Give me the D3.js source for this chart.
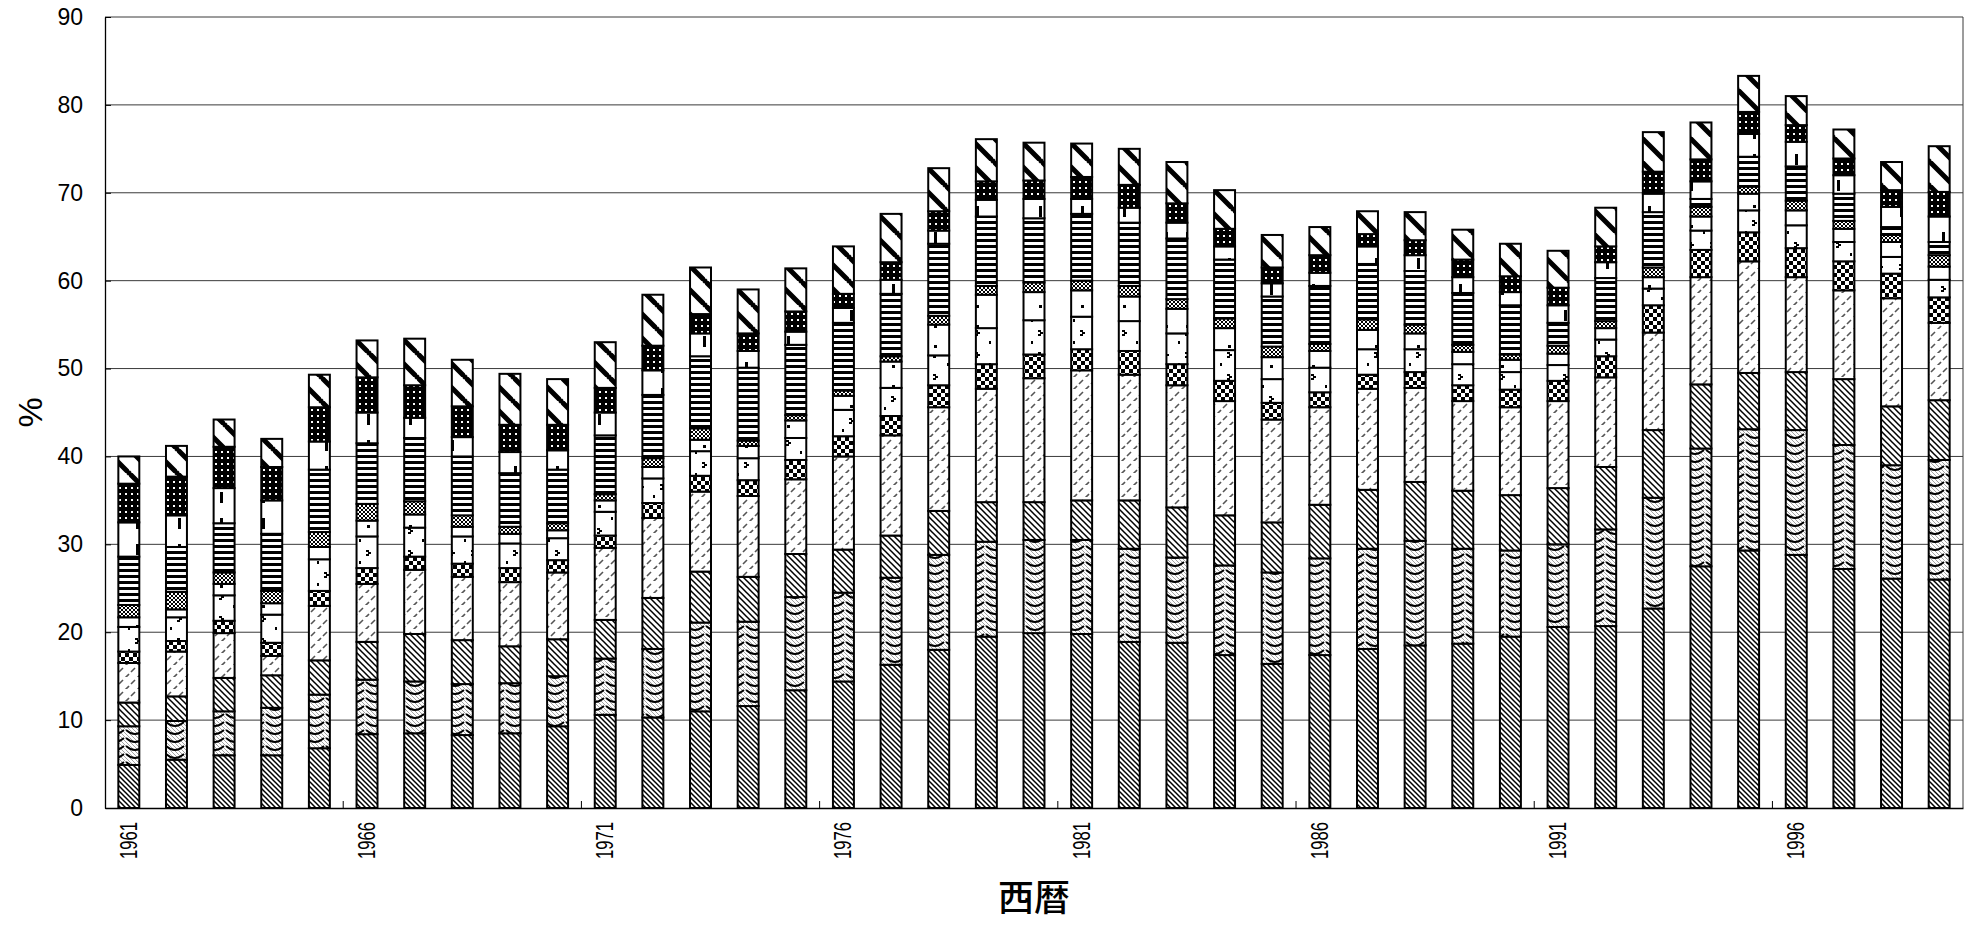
<!DOCTYPE html>
<html>
<head>
<meta charset="utf-8">
<script src="https://cdn.jsdelivr.net/npm/d3@7"></script>
<style>
  body { margin: 0; background: #fff; }
  svg { display: block; }
</style>
</head>
<body>
<div id="chart"><svg></svg></div>
<script>
// years on the x axis
var years = d3.range(1961, 2000);

// stacked segments, bottom (s1) to top (s12), one value per year, in %
var s1  = [4.9,5.5,6.0,6.0,6.8,8.4,8.5,8.3,8.5,9.3,10.6,10.3,11.0,11.6,13.4,14.4,16.3,18.0,19.5,19.9,19.8,18.9,18.8,17.4,16.4,17.4,18.1,18.5,18.7,19.5,20.6,20.7,22.7,27.5,29.3,28.8,27.2,26.1,26.0];
var s2  = [4.4,4.4,5.0,5.4,6.1,6.2,5.9,5.8,5.7,5.7,6.4,7.8,10.1,9.6,10.6,10.1,9.9,10.8,10.8,10.6,10.7,10.6,9.7,10.2,10.4,11.0,11.4,11.9,10.8,9.8,9.4,11.0,12.6,13.4,13.8,14.2,14.1,12.9,13.6];
var s3  = [2.7,2.8,3.8,3.7,3.9,4.3,5.4,5.0,4.2,4.2,4.4,5.8,5.8,5.1,4.9,4.9,4.8,5.0,4.5,4.3,4.5,5.5,5.7,5.7,5.7,6.1,6.7,6.7,6.6,6.3,6.4,7.1,7.7,7.3,6.4,6.6,7.5,6.7,6.8];
var s4  = [4.5,5.1,5.1,2.2,6.2,6.6,7.3,7.2,7.3,7.6,8.2,9.1,9.1,9.2,8.5,10.6,11.4,11.8,12.9,14.1,14.8,14.3,13.9,13.0,11.7,11.1,11.5,10.7,10.2,10.0,9.9,10.2,11.1,12.2,12.7,10.8,10.1,12.3,8.8];
var s5  = [1.3,1.2,1.4,1.5,1.7,1.8,1.5,1.5,1.6,1.4,1.4,1.7,1.8,1.8,2.2,2.3,2.2,2.5,2.8,2.7,2.4,2.7,2.4,2.3,1.9,1.7,1.6,1.8,1.8,2.0,2.3,2.4,3.1,3.1,3.3,3.3,3.3,2.8,2.9];
var s6  = [2.8,2.7,2.9,3.2,3.6,3.6,3.3,3.1,2.8,2.5,2.7,2.8,2.8,2.5,2.5,3.0,3.2,3.4,4.1,3.9,3.7,3.4,3.5,3.5,2.7,2.8,2.9,2.6,2.4,2.0,1.8,1.9,1.9,2.2,2.5,2.6,2.2,1.9,2.0];
var s7  = [1.1,0.9,1.3,1.3,1.4,1.8,1.5,1.1,1.1,0.9,1.3,1.3,1.3,1.4,2.0,1.6,3.0,3.5,3.8,3.2,3.0,2.8,2.8,2.5,2.5,1.9,2.2,1.8,1.4,1.4,1.3,1.3,1.3,1.6,1.9,1.7,1.5,1.7,1.5];
var s8  = [1.4,2.0,1.3,1.4,1.7,1.9,1.5,1.3,0.8,0.8,0.7,1.0,1.3,0.6,0.6,0.6,0.6,1.0,1.0,1.1,1.1,1.2,1.1,1.1,1.2,0.8,1.2,1.0,0.8,0.6,0.9,0.8,1.1,1.1,0.8,1.1,0.9,0.8,1.3];
var s9  = [5.5,5.1,5.6,6.5,7.1,6.9,7.2,6.7,6.1,6.1,6.7,7.2,8.2,8.3,8.0,7.7,7.1,8.2,7.9,7.3,7.6,7.2,6.9,6.7,5.7,6.6,6.3,6.1,5.9,5.6,2.6,4.9,6.3,0.9,3.4,3.9,3.1,0.9,1.5];
var s10 = [3.9,3.6,4.0,3.8,3.2,3.5,2.3,2.2,2.4,2.2,2.6,2.8,2.6,1.9,1.5,1.7,1.6,1.5,1.9,2.2,1.7,1.7,1.8,1.5,1.5,1.5,2.0,1.8,1.8,1.5,2.0,1.8,2.1,2.0,2.6,2.8,2.1,2.3,2.9];
var s11 = [4.4,4.4,4.7,3.8,3.9,4.0,3.7,3.5,3.1,2.9,2.8,2.8,2.2,2.0,2.3,1.6,2.0,2.2,2.1,2.1,2.5,2.6,2.2,2.0,1.8,2.0,1.4,1.7,2.0,1.8,2.0,1.8,2.5,2.5,2.5,1.9,1.9,1.9,2.8];
var s12 = [3.1,3.5,3.1,3.2,3.7,4.2,5.3,5.3,5.8,5.2,5.2,5.8,5.3,5.0,4.9,5.4,5.5,4.9,4.8,4.3,3.8,4.1,4.7,4.4,3.7,3.2,2.6,3.2,3.4,3.7,4.2,4.4,4.5,4.2,4.1,3.3,3.3,3.2,5.2];

var seriesList = [s1, s2, s3, s4, s5, s6, s7, s8, s9, s10, s11, s12];
var seriesKeys = ['s1','s2','s3','s4','s5','s6','s7','s8','s9','s10','s11','s12'];

var yTicks = d3.range(0, 91, 10);
var labelYears = years.filter(function(d, i){ return i % 5 === 0; });

var width = 1977, height = 925;
var margins = { top: 17, bottom: 117, left: 105, right: 14 };
var plotW = width - margins.left - margins.right;
var plotH = height - margins.top - margins.bottom;

var svg = d3.select("#chart").select("svg").attr('width', width).attr('height', height);

// ---- fill patterns (black & white, like the original print) ----
var defs = svg.append('defs');

function pat(id, w, h, bg){
  var p = defs.append('pattern').attr('id', id)
            .attr('patternUnits', 'userSpaceOnUse')
            .attr('width', w).attr('height', h);
  p.append('rect').attr('width', w).attr('height', h).attr('fill', bg);
  return p;
}
function diag(p, w, sw, col){
  p.append('path')
    .attr('d', 'M-1,-1L' + (w+1) + ',' + (w+1) + 'M-1,' + (w-1) + 'L1,' + (w+1) + 'M' + (w-1) + ',-1L' + (w+1) + ',1')
    .attr('stroke', col).attr('stroke-width', sw).attr('fill', 'none');
}

var p1 = pat('p1', 5, 5, '#fff'); diag(p1, 5, 1.5, '#000');
// scallop: arcs over a faint hatch
var p2 = pat('p2', 20, 8, '#fff');
p2.append('path').attr('d', 'M0,0L8,8M4,0L12,8M8,0L16,8M12,0L20,8M16,0L24,8M-4,0L4,8')
  .attr('stroke', '#999').attr('stroke-width', 0.9);
p2.append('path').attr('d', 'M1,1 Q10,9 19,1').attr('stroke', '#000').attr('stroke-width', 1.8).attr('fill', 'none');
var p3 = pat('p3', 6, 6, '#fff'); diag(p3, 6, 1.5, '#000');
var p4 = pat('p4', 12, 12, '#fff');
p4.append('path').attr('d', 'M2,7L6,3M8,13L12,9M-4,13L0,9').attr('stroke', '#555').attr('stroke-width', 1.6);
var p5 = pat('p5', 8, 8, '#fff');
p5.append('rect').attr('width', 4).attr('height', 4).attr('fill', '#000');
p5.append('rect').attr('x', 4).attr('y', 4).attr('width', 4).attr('height', 4).attr('fill', '#000');
var p6 = pat('p6', 21, 22, '#fff');
p6.append('path').attr('d', 'M9,5h3v2h2v2h-2v2h-3v-2h2v-2h-2z M2,16h2v3h-2z').attr('fill', '#000');
var p7 = pat('p7', 21, 20, '#fff');
p7.append('rect').attr('x', 10).attr('y', 8).attr('width', 3).attr('height', 3).attr('fill', '#000');
var p8 = pat('p8', 4, 4, '#fff');
p8.append('rect').attr('width', 2).attr('height', 2).attr('fill', '#000');
p8.append('rect').attr('x', 2).attr('y', 2).attr('width', 2).attr('height', 2).attr('fill', '#000');
var p9 = pat('p9', 6, 6, '#fff');
p9.append('rect').attr('width', 6).attr('height', 3).attr('fill', '#000');
var p10 = pat('p10', 21, 26, '#fff');
p10.append('rect').attr('x', 10).attr('y', 7).attr('width', 3).attr('height', 11).attr('fill', '#000');
var p11 = pat('p11', 6, 6, '#000');
p11.append('rect').attr('x', 2).attr('y', 2).attr('width', 2).attr('height', 2).attr('fill', '#fff');
var p12 = pat('p12', 24, 24, '#fff'); diag(p12, 24, 5, '#000');

// ---- scales ----
var xScale = d3.scaleBand()
              .domain(years)
              .range([0, plotW])
              .paddingInner(0.56)
              .paddingOuter(0.28);

var yScale = d3.scaleLinear()
              .domain([0, 90])
              .range([plotH, 0]);

var plotLand = svg.append('g')
                  .attr('transform', 'translate(' + margins.left + ',' + margins.top + ')');

// grid lines
plotLand.append('g').selectAll('line')
  .data(yTicks.slice(1))
  .enter().append('line')
  .attr('x1', 0).attr('x2', plotW)
  .attr('y1', function(d){ return yScale(d); })
  .attr('y2', function(d){ return yScale(d); })
  .attr('stroke', '#3a3a3a').attr('stroke-width', 1);

// right border of plot
plotLand.append('line')
  .attr('x1', plotW).attr('x2', plotW).attr('y1', 0).attr('y2', plotH)
  .attr('stroke', '#3a3a3a').attr('stroke-width', 1);

// ---- stacked bars ----
var table = years.map(function(y, i){
  var row = { year: y };
  seriesKeys.forEach(function(k, j){ row[k] = seriesList[j][i]; });
  return row;
});
var stacked = d3.stack().keys(seriesKeys)(table);

var layers = plotLand.selectAll('g.layer')
  .data(stacked)
  .enter().append('g')
  .attr('class', 'layer')
  .attr('fill', function(d, i){ return 'url(#p' + (i + 1) + ')'; });

layers.selectAll('rect')
  .data(function(d){ return d; })
  .enter().append('rect')
  .attr('x', function(d){ return xScale(d.data.year); })
  .attr('width', xScale.bandwidth())
  .attr('y', function(d){ return yScale(d[1]); })
  .attr('height', function(d){ return yScale(d[0]) - yScale(d[1]); })
  .attr('stroke', '#000')
  .attr('stroke-width', 2);

// ---- axes ----
var yAxis = d3.axisLeft().scale(yScale).tickValues(yTicks)
              .tickSizeInner(-6).tickSizeOuter(0).tickPadding(22);
var gy = plotLand.append('g').call(yAxis);
gy.select('.domain').attr('stroke', '#000').attr('stroke-width', 1.3);
gy.selectAll('.tick line').attr('stroke', '#000');
gy.selectAll('text').attr('font-family', 'Liberation Sans, Arial, sans-serif')
  .attr('font-size', 23).attr('fill', '#000');

var xAxis = d3.axisBottom().scale(xScale).tickValues(labelYears).tickSize(0).tickPadding(0);
var gx = plotLand.append('g').attr('transform', 'translate(0,' + plotH + ')').call(xAxis);
gx.select('.domain').attr('stroke', '#000').attr('stroke-width', 1.5);
gx.selectAll('text')
  .attr('font-family', 'Liberation Sans, Arial, sans-serif')
  .attr('font-size', 23).attr('fill', '#000')
  .attr('textLength', 37).attr('lengthAdjust', 'spacingAndGlyphs')
  .attr('transform', 'rotate(-90)')
  .attr('text-anchor', 'end')
  .attr('x', -14).attr('y', 0).attr('dy', '0.35em');

// small tick marks between groups of five years
var step = xScale.step();
plotLand.append('g').selectAll('line')
  .data(d3.range(5, years.length, 5))
  .enter().append('line')
  .attr('x1', function(d){ return xScale(years[d]) - (step - xScale.bandwidth()) / 2; })
  .attr('x2', function(d){ return xScale(years[d]) - (step - xScale.bandwidth()) / 2; })
  .attr('y1', plotH).attr('y2', plotH - 7)
  .attr('stroke', '#000').attr('stroke-width', 1);

// axis titles
svg.append('text')
  .attr('transform', 'translate(30,' + (margins.top + yScale(45)) + ') rotate(-90)')
  .attr('text-anchor', 'middle').attr('dy', '0.35em')
  .attr('font-family', 'Liberation Sans, Arial, sans-serif')
  .attr('font-size', 34)
  .text('%');

svg.append('text')
  .attr('x', 1034).attr('y', 911)
  .attr('text-anchor', 'middle')
  .attr('font-family', 'Noto Sans CJK JP, sans-serif')
  .attr('font-size', 36).attr('font-weight', 500)
  .text('西暦');
</script>
</body>
</html>
